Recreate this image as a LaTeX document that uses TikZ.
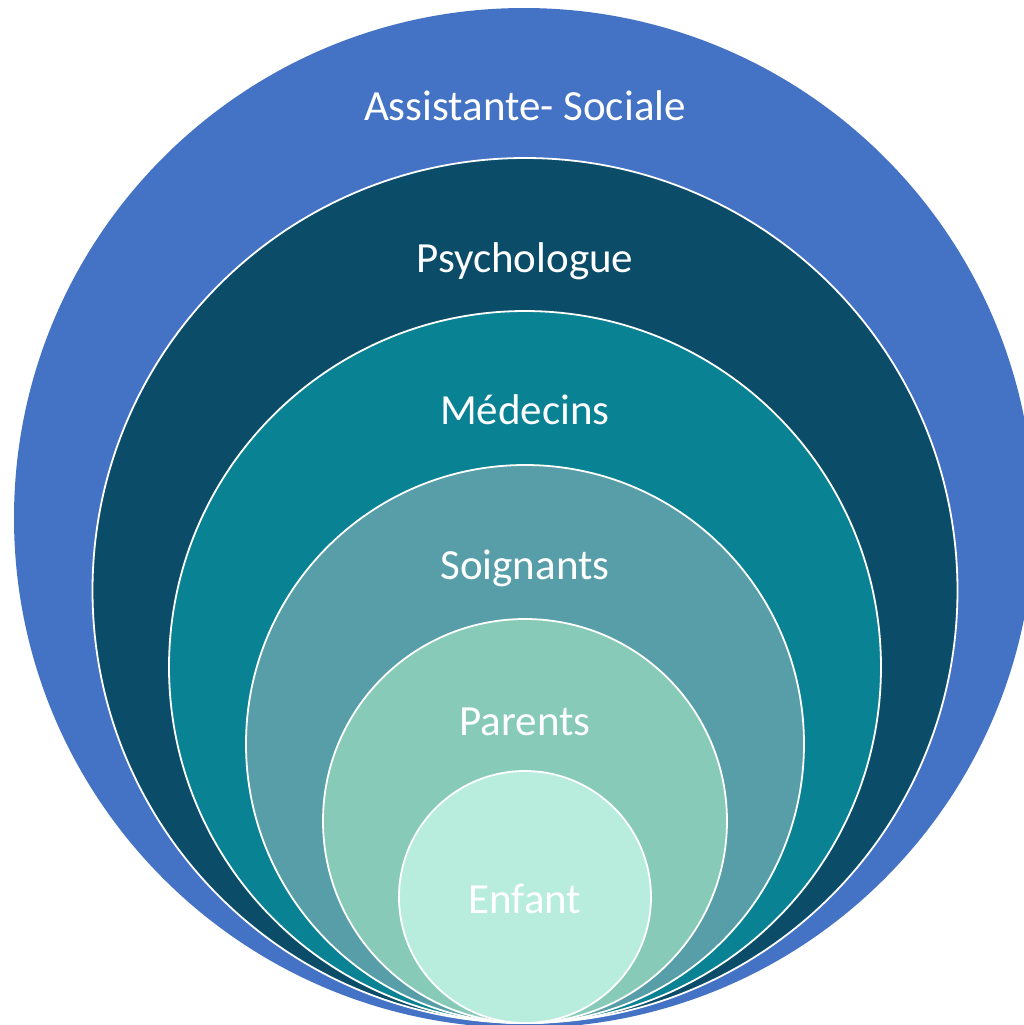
\documentclass[tikz,border=0pt]{standalone}
\usepackage{fontspec}
\setmainfont{Carlito}
\definecolor{ringA}{HTML}{4472C4}
\definecolor{ringB}{HTML}{0B4D68}
\definecolor{ringC}{HTML}{098294}
\definecolor{ringD}{HTML}{579EA9}
\definecolor{ringE}{HTML}{88CAB8}
\definecolor{ringF}{HTML}{B8ECDD}
\begin{document}
\begin{tikzpicture}[x=0.5pt,y=-0.5pt,
  ring/.style={fill=#1,draw=white,line width=0.9pt},
  lbl/.style={text=white,font=\fontsize{21.5}{26}\selectfont,anchor=base,inner sep=0pt}]
\useasboundingbox (0,0) rectangle (1024,1025);
\clip (0,0) rectangle (1024,1025);
% nested circles, all touching at the bottom
\fill[ringA] (524,518) circle[radius=510];
\path[ring=ringB] (525,590.5) circle[radius=432.5];
\path[ring=ringC] (525,667) circle[radius=356];
\path[ring=ringD] (525,744) circle[radius=279];
\path[ring=ringE] (525,821) circle[radius=202];
\path[ring=ringF] (525,897) circle[radius=126];
% labels
\node[lbl] (l1) at (525,120) {Assistante- Sociale};
\node[lbl] (l2) at (525,272) {Psychologue};
\node[lbl] (l3) at (525,424) {Médecins};
\node[lbl] (l4) at (525,579) {Soignants};
\node[lbl] (l5) at (525,735) {Parents};
\node[lbl] (l6) at (525,913) {Enfant};
\end{tikzpicture}
\end{document}
